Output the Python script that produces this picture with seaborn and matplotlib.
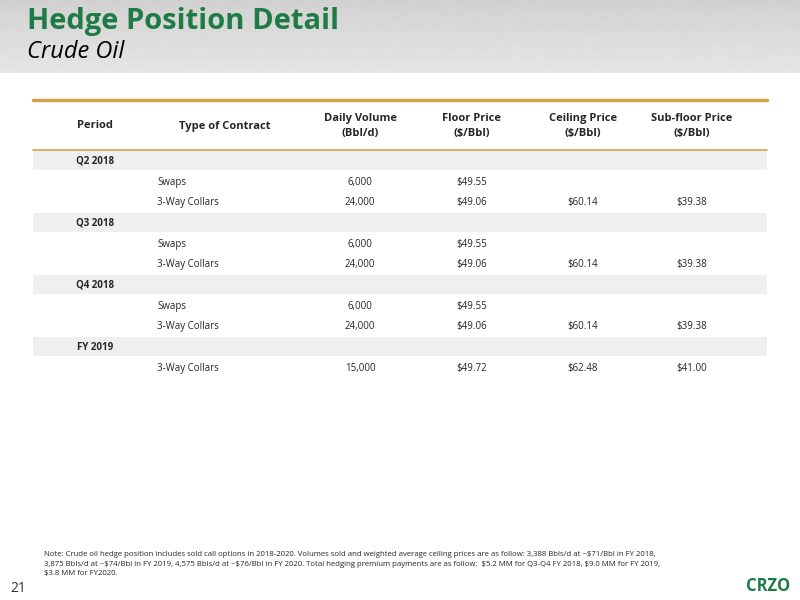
import matplotlib
matplotlib.use("Agg")
import matplotlib.pyplot as plt
import seaborn as sns
import numpy as np

sns.set_theme(style="white")
plt.rcParams['font.family'] = ['Open Sans', 'DejaVu Sans']
plt.rcParams['text.parse_math'] = False

headers = ["Period", "Type of Contract", "Daily Volume\n(Bbl/d)", "Floor Price\n($/Bbl)",
           "Ceiling Price\n($/Bbl)", "Sub-floor Price\n($/Bbl)"]
periods = ["Q2 2018", "Q3 2018", "Q4 2018", "FY 2019"]
contracts = [["Swaps", "3-Way Collars"], ["Swaps", "3-Way Collars"],
             ["Swaps", "3-Way Collars"], ["3-Way Collars"]]
volumes = [["6,000", "24,000"], ["6,000", "24,000"], ["6,000", "24,000"], ["15,000"]]
floors = [["$49.55", "$49.06"], ["$49.55", "$49.06"], ["$49.55", "$49.06"], ["$49.72"]]
ceilings = [["", "$60.14"], ["", "$60.14"], ["", "$60.14"], ["$62.48"]]
subfloors = [["", "$39.38"], ["", "$39.38"], ["", "$39.38"], ["$41.00"]]
note = ("Note: Crude oil hedge position includes sold call options in 2018-2020. Volumes sold and weighted average ceiling prices are as follow: 3,388 Bbls/d at ~$71/Bbl in FY 2018,\n"
        "3,875 Bbls/d at ~$74/Bbl in FY 2019, 4,575 Bbls/d at ~$76/Bbl in FY 2020. Total hedging premium payments are as follow:  $5.2 MM for Q3-Q4 FY 2018, $9.0 MM for FY 2019,\n"
        "$3.8 MM for FY2020.")

fig = plt.figure(figsize=(8, 6), dpi=100)
ax = fig.add_axes([0, 0, 1, 1])
ax.set_xlim(0, 800); ax.set_ylim(600, 0); ax.axis("off")

grad = np.linspace(0.82, 0.90, 100).reshape(-1, 1)
ax.imshow(grad, extent=[0, 800, 73, 0], cmap="gray", vmin=0, vmax=1, aspect="auto", zorder=0)
ax.set_xlim(0, 800); ax.set_ylim(600, 0)
green = "#1e7b45"
ax.text(27, 22, "Hedge Position Detail", color=green, fontsize=21, fontweight="bold", va="center")
ax.text(27, 52, "Crude Oil", color="black", fontsize=17, style="italic", va="center")

L, R = 33, 767
orange = "#d9a04a"
ax.plot([L, R], [100, 100], color=orange, lw=2.5)
ax.plot([L, R], [150, 150], color=orange, lw=1.2)
xcol = [95, 225, 360, 472, 583, 692]
for x, h in zip(xcol, headers):
    ax.text(x, 126, h, ha="center", va="center", fontsize=8, fontweight="bold", linespacing=1.5)

y = 151
for i, p in enumerate(periods):
    ax.add_patch(plt.Rectangle((L, y), R - L, 19, color="#efefef", lw=0))
    ax.text(95, y + 10, p, ha="center", va="center", fontsize=7, fontweight="bold")
    y += 19
    for j, c in enumerate(contracts[i]):
        yc = y + 13 + j * 20
        ax.text(157, yc, c, ha="left", va="center", fontsize=7)
        for x, v in zip(xcol[2:], [volumes[i][j], floors[i][j], ceilings[i][j], subfloors[i][j]]):
            ax.text(x, yc, v, ha="center", va="center", fontsize=7)
    y += 20 * len(contracts[i]) + 3

ax.text(44, 564, note, fontsize=5.6, va="center", linespacing=1.6)
ax.text(10, 589, "21", fontsize=10, color="#333333", va="center")
ax.text(790, 586, "CRZO", fontsize=12, color=green, fontweight="bold", ha="right", va="center")

fig.savefig("out.png", dpi=100)
